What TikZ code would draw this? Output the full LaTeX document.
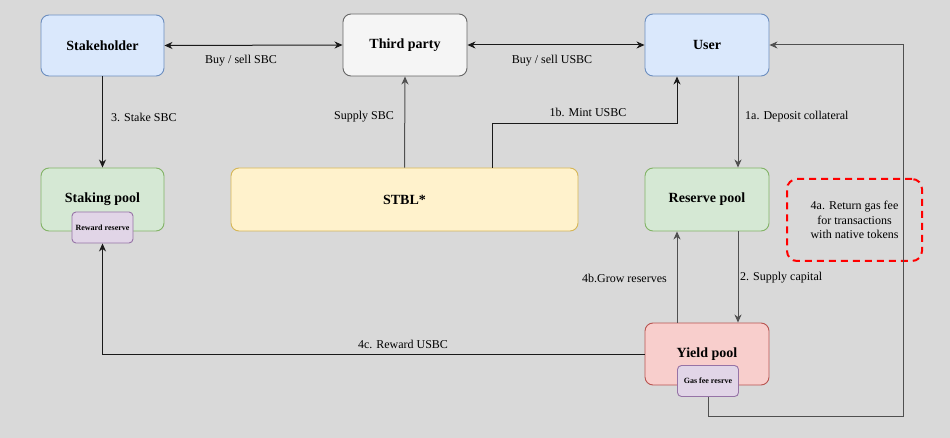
\documentclass[tikz,border=0pt]{standalone}
\usepackage{fontspec}
\setmainfont{Liberation Serif}
\usetikzlibrary{arrows.meta}
\definecolor{bg}{HTML}{D9D9D9}
\definecolor{bluef}{HTML}{DAE8FC}\definecolor{blued}{HTML}{6C8EBF}
\definecolor{grayf}{HTML}{F5F5F5}\definecolor{grayd}{HTML}{666666}
\definecolor{greenf}{HTML}{D5E8D4}\definecolor{greend}{HTML}{82B366}
\definecolor{yellf}{HTML}{FFF2CC}\definecolor{yelld}{HTML}{D6B656}
\definecolor{redf}{HTML}{F8CECC}\definecolor{redd}{HTML}{B85450}
\definecolor{purpf}{HTML}{E1D5E7}\definecolor{purpd}{HTML}{9673A6}
\definecolor{linek}{HTML}{1A1A1A}\definecolor{lineg}{HTML}{505050}
\begin{document}
\begin{tikzpicture}[x=1pt,y=-1pt,
  box/.style={draw,rounded corners=8pt,line width=0.9pt,inner sep=0pt,
    font=\fontsize{14}{16}\selectfont\bfseries,align=center},
  small/.style={draw,rounded corners=4pt,line width=0.9pt,inner sep=0pt,
    minimum width=61pt,minimum height=31pt,font=\fontsize{8}{9}\selectfont\bfseries},
  conn/.style={line width=1pt,draw=linek,-{Stealth[length=8pt,width=7pt,inset=2.5pt]}},
  bconn/.style={conn,{Stealth[length=8pt,width=7pt,inset=2.5pt]}-{Stealth[length=8pt,width=7pt,inset=2.5pt]}},
  lbl/.style={font=\fontsize{12}{14}\selectfont,inner sep=1pt,text=black}]
\fill[bg] (0,0) rectangle (950,438);
\useasboundingbox (0,0) rectangle (950,438);

\node[box,fill=bluef,draw=blued,minimum width=123pt,minimum height=61pt] (sh) at (102.5,45.5) {Stakeholder};
\node[box,fill=grayf,draw=grayd,minimum width=124pt,minimum height=62pt] (tp) at (405,45) {Third party};
\node[box,fill=bluef,draw=blued,minimum width=124pt,minimum height=62pt] (us) at (707,45) {User};
\node[box,fill=greenf,draw=greend,minimum width=123pt,minimum height=63pt] (sp) at (102.5,199.5) {Staking pool};
\node[box,fill=yellf,draw=yelld,minimum width=347pt,minimum height=63pt] (st) at (404.5,199.5) {STBL*};
\node[box,fill=greenf,draw=greend,minimum width=124pt,minimum height=63pt] (rp) at (707,199.5) {Reserve pool};
\node[box,fill=redf,draw=redd,minimum width=124pt,minimum height=62pt] (yp) at (707,354) {Yield pool};
\node[small,fill=purpf,draw=purpd] (rr) at (102.5,227.5) {Reward reserve};
\node[small,fill=purpf,draw=purpd] (gf) at (708,381) {Gas fee resrve};
\node[draw=red,dashed,dash pattern=on 7pt off 5pt,line width=2pt,rounded corners=10pt,
  minimum width=135pt,minimum height=82pt,align=center,
  font=\fontsize{12}{14.5}\selectfont] (note) at (854.5,220) {4a. Return gas fee\\for transactions\\with native tokens};

% connectors
\draw[bconn] (sh.east) -- (tp.west);
\node[lbl] (l1) at (241,61) {Buy / sell SBC};
\draw[bconn] (tp.east) -- (us.west);
\node[lbl] (l2) at (552,61) {Buy / sell USBC};
\draw[conn] (sh.south) -- (sp.north);
\node[lbl,anchor=west] (l3) at (110,117) {3. Stake SBC};
\draw[conn,draw=lineg] (st.north) -- (tp.south);
\node[lbl,anchor=east] (l4) at (395,117) {Supply SBC};
\draw[conn] (st.north -| 492,0) |- (677,124) -- (us.south -| 677,0);
\node[lbl] (l5) at (588,112) {1b. Mint USBC};
\draw[conn,draw=lineg] (us.south -| 738,0) -- (rp.north -| 738,0);
\node[lbl,anchor=west] (l6) at (744,117) {1a. Deposit collateral};
\draw[conn,draw=lineg] (rp.south -| 738,0) -- (yp.north -| 738,0);
\node[lbl,anchor=west] (l7) at (739,278) {2. Supply capital};
\draw[conn,draw=lineg] (yp.north -| 677,0) -- (rp.south -| 677,0);
\node[lbl,anchor=east] (l8) at (668,278) {4b.Grow reserves};
\draw[conn] (yp.west) -| (rr.south);
\node[lbl] (l9) at (403,344) {4c. Reward USBC};
\draw[conn,draw=lineg] (gf.south) |- (903,416) |- (us.east);
\end{tikzpicture}
\end{document}
